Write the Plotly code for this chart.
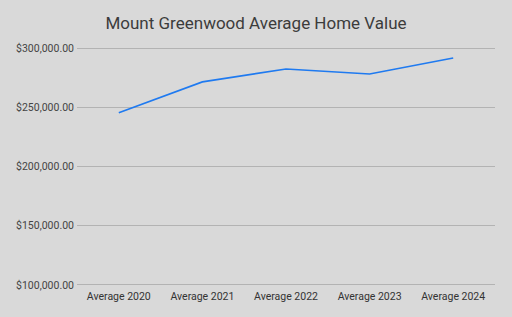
import plotly.graph_objects as go

categories = ["Average 2020", "Average 2021", "Average 2022", "Average 2023", "Average 2024"]
values = [245300, 271400, 282300, 278100, 291600]
tick_vals = [100000, 150000, 200000, 250000, 300000]
tick_text = ["$100,000.00", "$150,000.00", "$200,000.00", "$250,000.00", "$300,000.00"]
title = "Mount Greenwood Average Home Value"

fig = go.Figure()
fig.add_trace(go.Scatter(x=categories, y=values, mode="lines",
                         line=dict(color="#1f7af0", width=1.6)))

fig.update_layout(
    width=512, height=317,
    paper_bgcolor="#d9d9d9", plot_bgcolor="#d9d9d9",
    margin=dict(l=77, r=17, t=46, b=29.5),
    font=dict(family="Roboto", color="#444444", size=11),
    title=dict(text=title, x=0.5, xanchor="center", y=1 - 23/317, yanchor="middle",
               font=dict(family="Roboto", size=17, color="#3c3c3c")),
    showlegend=False,
)
fig.update_xaxes(range=[-0.5, 4.5], showgrid=False, zeroline=False, showline=False, ticks="",
                 tickfont=dict(size=10.5, color="#333333"), ticklabelstandoff=1)
fig.update_yaxes(range=[98300, 301700], tickvals=tick_vals, ticktext=tick_text,
                 showgrid=True, gridcolor="#b3b3b3", gridwidth=1, zeroline=False,
                 showline=False, ticks="", ticklabelstandoff=2,
                 tickfont=dict(size=10.5, color="#444444"))

fig.write_html("out.html")
